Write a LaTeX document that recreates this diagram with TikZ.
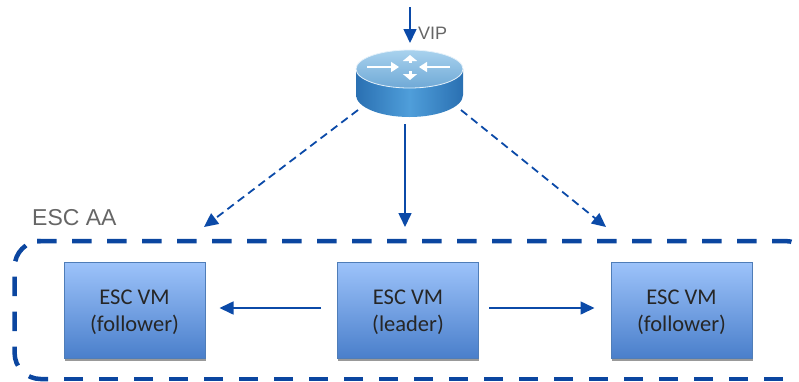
\documentclass[tikz,border=0pt]{standalone}
\usepackage{fontspec}
\setmainfont{Carlito}
\newfontfamily\lblfont{Liberation Sans}
\usetikzlibrary{arrows.meta,shadows,calc}
\definecolor{arrowblue}{HTML}{0B4AA8}
\definecolor{borderblue}{HTML}{0B46A0}
\definecolor{boxtop}{HTML}{9DC3FA}
\definecolor{boxbot}{HTML}{4A7FCB}
\definecolor{boxline}{HTML}{4F7DB8}
\definecolor{lblgray}{HTML}{666666}
\definecolor{rtop}{HTML}{A9D2EE}
\definecolor{rtopb}{HTML}{6FA9D6}
\definecolor{rsideedge}{HTML}{2A70B2}
\definecolor{rsidemid}{HTML}{4F9EDA}
\newcommand\vmlead{\rule{0pt}{20pt}}
\tikzset{
  vmbox/.style={draw=boxline,line width=1pt,top color=boxtop,bottom color=boxbot,
    minimum width=141pt,minimum height=96pt,inner sep=0pt,align=center,
    font=\fontsize{22.5}{27}\selectfont,text=black!85,
    drop shadow={shadow xshift=0.5pt,shadow yshift=-2.5pt,opacity=0.4,fill=black}},
  link/.style={draw=arrowblue,line width=1.6pt,-{Triangle[length=14pt,width=13pt]}},
  dashlink/.style={link,line width=1.8pt,dash pattern=on 8pt off 5pt},
  aabox/.style={draw=borderblue,line width=4.5pt,rounded corners=26pt,dash pattern=on 19.5pt off 15.5pt},
  lbl/.style={text=lblgray,inner sep=0pt},
  rarrow/.style={white,line width=1.6pt},
}
\begin{document}
\begin{tikzpicture}[x=1pt,y=-1pt]
\useasboundingbox (0,0) rectangle (799,381);
% container
\draw[aabox] (37,241) -- (811,241) -- (811,300);
\draw[aabox] (818,379) -- (64,379);
\draw[aabox] (48,379) -- (14.6,379) -- (14.6,241) -- (37,241);
\node[lbl,font=\lblfont\fontsize{23}{27}\selectfont,anchor=west] (aa) at (32,218) {ESC AA};
% router
\shade[left color=rsideedge,right color=rsideedge,middle color=rsidemid]
  (356,69) -- (356,95) arc[start angle=180,end angle=360,x radius=53.5pt,y radius=22pt] -- (463,69) -- cycle;
\shade[top color=rtop,bottom color=rtopb]
  (409.5,69) ellipse[x radius=53.5pt,y radius=19pt];
\draw[white!70!rtop,line width=0.8pt] (409.5,69) ellipse[x radius=53.5pt,y radius=19pt];
\draw[rarrow,-{Triangle[length=8pt,width=10pt]}] (367,67) -- (399,67);
\draw[rarrow,-{Triangle[length=8pt,width=10pt]}] (450,67) -- (419,67);
\draw[rarrow,line width=3pt,-{Triangle[length=6pt,width=14pt]}] (410,63) -- (410,55);
\draw[rarrow,line width=3pt,-{Triangle[length=6pt,width=14pt]}] (410,71) -- (410,80);
\coordinate (rl) at (358,110);
\coordinate (rr) at (461,110);
\coordinate (rb) at (405,124);
\coordinate (vipstart) at (410,7);
\coordinate (viptip) at (410,43);
\coordinate (tl) at (204,227);
\coordinate (tm) at (405,227);
\coordinate (tr) at (606,227);
\node[lbl,font=\lblfont\fontsize{18}{20}\selectfont,anchor=west] (vip) at (418,33) {VIP};
% boxes
\node[vmbox] (f1) at (134.5,310) {\vmlead ESC VM\\(follower)};
\node[vmbox] (ld) at (408,310) {\vmlead ESC VM\\(leader)};
\node[vmbox] (f2) at (681.5,310) {\vmlead ESC VM\\(follower)};
% links
\draw[link] (vipstart) -- (viptip);
\draw[link] (rb) -- (tm);
\draw[dashlink] (rl) -- (tl);
\draw[dashlink] (rr) -- (tr);
\draw[link] ($(ld.west)+(-16,-2)$) -- ($(f1.east)+(14,-2)$);
\draw[link] ($(ld.east)+(10,-2)$) -- ($(f2.west)+(-16,-2)$);
\end{tikzpicture}
\end{document}
